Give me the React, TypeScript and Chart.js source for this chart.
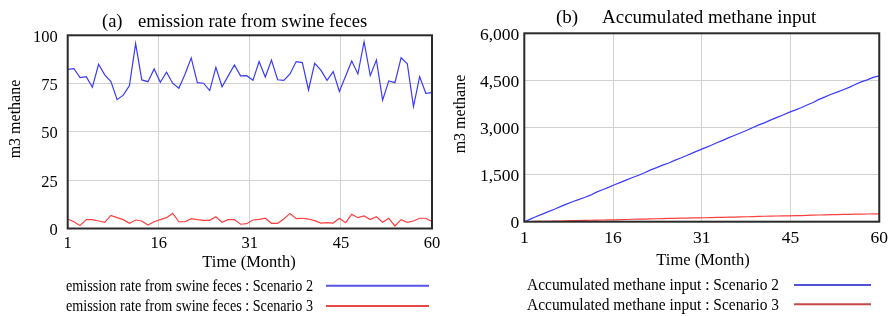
import React, { useEffect, useRef } from 'react';
import { Chart, registerables } from 'chart.js';

Chart.register(...registerables);

// ---------- data ----------
const months = [
  1, 2, 3, 4, 5, 6, 7, 8, 9, 10, 11, 12, 13, 14, 15, 16, 17, 18, 19, 20,
  21, 22, 23, 24, 25, 26, 27, 28, 29, 30, 31, 32, 33, 34, 35, 36, 37, 38, 39, 40,
  41, 42, 43, 44, 45, 46, 47, 48, 49, 50, 51, 52, 53, 54, 55, 56, 57, 58, 59, 60,
];

const emissionScenario2 = [
  82.4, 82.8, 78.1, 78.6, 73.1, 85.0, 79.5, 76.0, 66.7, 69.0,
  74.0, 95.7, 76.9, 76.0, 82.6, 75.7, 80.9, 75.2, 72.6, 79.8,
  88.3, 75.5, 75.2, 71.4, 83.4, 73.4, 79.0, 84.7, 79.0, 79.1,
  76.7, 86.4, 78.4, 87.2, 77.0, 76.7, 80.0, 86.4, 85.9, 71.7,
  85.5, 82.0, 76.7, 81.2, 70.9, 78.8, 86.7, 80.0, 96.7, 79.1,
  87.2, 66.4, 76.4, 75.5, 88.4, 85.3, 63.1, 78.6, 70.0, 70.3,
];

const emissionScenario3 = [
  4.9, 3.5, 1.5, 4.6, 4.6, 3.9, 3.2, 6.8, 5.6, 4.6,
  2.7, 4.4, 3.9, 1.8, 3.5, 4.6, 5.6, 7.8, 3.5, 3.5,
  5.1, 4.6, 4.2, 4.2, 6.1, 3.2, 4.6, 4.6, 2.2, 2.5,
  4.4, 4.7, 5.3, 2.7, 2.7, 4.9, 7.8, 5.1, 5.3, 4.9,
  4.1, 2.8, 3.0, 2.8, 5.3, 3.0, 7.3, 5.6, 6.5, 4.6,
  6.1, 3.2, 5.3, 1.3, 4.6, 3.2, 3.9, 5.3, 5.3, 3.5,
];

const accumulatedScenario2 = [
  0, 82, 165, 243, 322, 395, 480, 560, 636, 702,
  771, 845, 941, 1018, 1094, 1176, 1252, 1333, 1408, 1481,
  1561, 1649, 1724, 1800, 1871, 1954, 2028, 2107, 2192, 2271,
  2350, 2426, 2513, 2591, 2678, 2755, 2832, 2912, 2998, 3084,
  3156, 3242, 3324, 3400, 3481, 3552, 3631, 3718, 3798, 3895,
  3974, 4061, 4127, 4204, 4279, 4368, 4453, 4516, 4595, 4645,
];

const accumulatedScenario3 = [
  0, 5, 8, 10, 15, 19, 23, 26, 33, 39,
  43, 46, 50, 54, 56, 60, 64, 70, 78, 81,
  85, 90, 94, 98, 103, 109, 112, 117, 121, 123,
  126, 130, 135, 140, 143, 146, 151, 158, 163, 169,
  174, 178, 181, 184, 186, 192, 195, 202, 208, 214,
  219, 225, 228, 233, 235, 239, 242, 246, 250, 252,
];

const xTickValues = [1, 15.75, 30.5, 45.25, 60];
const xTickLabels = ['1', '16', '31', '45', '60'];
const leftYTickLabels = ['0', '25', '50', '75', '100'];
const rightYTickLabels = ['0', '1,500', '3,000', '4,500', '6,000'];

// ---------- styles ----------
const FONT = '"Liberation Serif", "Times New Roman", Times, serif';
const BLUE = '#3a3aff';
const RED = '#ff4040';

type Panel = {
  tag: string;
  title: string;
  tagX: number;
  titleX: number;
  titleY: number;
  titleSize: number;
  yTitleX: number;
  yTitleY: number;
  xTitleX: number;
  xTitleY: number;
  legendX: number;
  legendW: number;
  legendRows: number[];
  lineRows: number[];
  lineX1: number;
  lineX2: number;
  legendColors: string[];
  legendTexts: string[];
};

function decorPlugin(p: Panel) {
  return {
    id: 'decor',
    afterDatasetsDraw(chart: any) {
      const { ctx, chartArea } = chart;
      ctx.save();
      ctx.strokeStyle = '#2a2a2a';
      ctx.lineWidth = 2;
      ctx.strokeRect(chartArea.left, chartArea.top, chartArea.right - chartArea.left, chartArea.bottom - chartArea.top);
      ctx.restore();
    },
    afterDraw(chart: any) {
      const { ctx } = chart;
      ctx.save();
      ctx.fillStyle = '#000';
      ctx.textBaseline = 'alphabetic';
      ctx.textAlign = 'left';
      ctx.font = `${p.titleSize}px ${FONT}`;
      ctx.fillText(p.tag, p.tagX, p.titleY);
      ctx.fillText(p.title, p.titleX, p.titleY);

      // x axis title
      ctx.font = `16.5px ${FONT}`;
      ctx.textAlign = 'center';
      ctx.fillText('Time (Month)', p.xTitleX, p.xTitleY);

      // y axis title
      ctx.save();
      ctx.translate(p.yTitleX, p.yTitleY);
      ctx.rotate(-Math.PI / 2);
      ctx.textBaseline = 'middle';
      ctx.font = `16px ${FONT}`;
      ctx.fillText('m3 methane', 0, 0);
      ctx.restore();

      // legend
      ctx.font = `16px ${FONT}`;
      ctx.textAlign = 'left';
      p.legendTexts.forEach((t, i) => {
        const w = ctx.measureText(t).width;
        const sx = p.legendW / w;
        ctx.save();
        ctx.translate(p.legendX, p.legendRows[i]);
        ctx.scale(sx, 1);
        ctx.fillText(t, 0, 0);
        ctx.restore();
        ctx.beginPath();
        ctx.strokeStyle = p.legendColors[i];
        ctx.lineWidth = 2;
        ctx.moveTo(p.lineX1, p.lineRows[i]);
        ctx.lineTo(p.lineX2, p.lineRows[i]);
        ctx.stroke();
      });
      ctx.restore();
    },
  };
}

function makeConfig(opts: {
  s2: number[];
  s3: number[];
  labels: string[];
  yMax: number;
  yStep: number;
  yLabels: string[];
  padTop: number;
  padRight: number;
  yWidth: number;
  xHeight: number;
  tickSize: number;
  yPad: number;
  xPad: number;
  panel: Panel;
}) {
  const grid = { color: '#d2d2d2', lineWidth: 1, drawTicks: false };
  return {
    type: 'line' as const,
    data: {
      datasets: [
        {
          label: opts.labels[0],
          data: months.map((m, i) => ({ x: m, y: opts.s2[i] })),
          borderColor: BLUE,
          borderWidth: 1.2,
          pointRadius: 0,
          tension: 0,
          fill: false,
        },
        {
          label: opts.labels[1],
          data: months.map((m, i) => ({ x: m, y: opts.s3[i] })),
          borderColor: RED,
          borderWidth: 1.2,
          pointRadius: 0,
          tension: 0,
          fill: false,
        },
      ],
    },
    options: {
      animation: false,
      responsive: false,
      maintainAspectRatio: false,
      layout: { padding: { top: opts.padTop, right: opts.padRight, left: 0, bottom: 0 } },
      plugins: { legend: { display: false }, title: { display: false }, tooltip: { enabled: false } },
      scales: {
        x: {
          type: 'linear',
          min: 1,
          max: 60,
          afterBuildTicks: (s: any) => {
            s.ticks = xTickValues.map((v) => ({ value: v }));
          },
          afterFit: (s: any) => {
            s.height = opts.xHeight;
          },
          grid,
          border: { display: false },
          ticks: {
            autoSkip: false,
            maxRotation: 0,
            padding: opts.xPad,
            color: '#000',
            font: { family: FONT, size: opts.tickSize },
            callback: (_v: any, i: number) => xTickLabels[i],
          },
        },
        y: {
          min: 0,
          max: opts.yMax,
          afterFit: (s: any) => {
            s.width = opts.yWidth;
          },
          grid,
          border: { display: false },
          ticks: {
            stepSize: opts.yStep,
            padding: opts.yPad,
            labelOffset: 2,
            color: '#000',
            font: { family: FONT, size: opts.tickSize },
            callback: (_v: any, i: number) => opts.yLabels[i],
          },
        },
      },
    },
    plugins: [decorPlugin(opts.panel)],
  };
}

const leftLegend = [
  'emission rate from swine feces : Scenario 2',
  'emission rate from swine feces : Scenario 3',
];
const rightLegend = [
  'Accumulated methane input : Scenario 2',
  'Accumulated methane input : Scenario 3',
];

function ChartCanvas({ config, left }: { config: any; left: number }) {
  const ref = useRef<HTMLCanvasElement | null>(null);
  useEffect(() => {
    if (!ref.current) return;
    const chart = new Chart(ref.current, config);
    return () => chart.destroy();
  }, [config]);
  return (
    <canvas
      ref={ref}
      width={447}
      height={316}
      style={{ position: 'absolute', left, top: 0, width: 447, height: 316 }}
    />
  );
}

const leftConfig = makeConfig({
  s2: emissionScenario2,
  s3: emissionScenario3,
  labels: leftLegend,
  yMax: 100,
  yStep: 25,
  yLabels: leftYTickLabels,
  padTop: 35.3,
  padRight: 15,
  yWidth: 67.7,
  xHeight: 87.5,
  tickSize: 16.5,
  yPad: 10,
  xPad: 5,
  panel: {
    tag: '(a)',
    title: 'emission rate from swine feces',
    tagX: 102,
    titleX: 138,
    titleY: 27,
    titleSize: 18.5,
    yTitleX: 15.5,
    yTitleY: 119,
    xTitleX: 249,
    xTitleY: 267,
    legendX: 66,
    legendW: 247,
    legendRows: [291, 311],
    lineRows: [285.7, 306],
    lineX1: 326,
    lineX2: 429,
    legendColors: ['#5555e6', '#e84848'],
    legendTexts: leftLegend,
  },
});

const rightConfig = makeConfig({
  s2: accumulatedScenario2,
  s3: accumulatedScenario3,
  labels: rightLegend,
  yMax: 6000,
  yStep: 1500,
  yLabels: rightYTickLabels,
  padTop: 33.3,
  padRight: 9,
  yWidth: 77.3,
  xHeight: 94.3,
  tickSize: 17.5,
  yPad: 5,
  xPad: 6,
  panel: {
    tag: '(b)',
    title: 'Accumulated methane input',
    tagX: 109,
    titleX: 155,
    titleY: 23,
    titleSize: 19,
    yTitleX: 14,
    yTitleY: 114,
    xTitleX: 256,
    xTitleY: 265,
    legendX: 80,
    legendW: 252,
    legendRows: [290, 309.5],
    lineRows: [285, 304.3],
    lineX1: 347,
    lineX2: 424,
    legendColors: ['#5050d8', '#c84848'],
    legendTexts: rightLegend,
  },
});

export default function App() {
  return (
    <div style={{ position: 'absolute', left: 0, top: 0, width: 894, height: 316, background: '#fff' }}>
      <ChartCanvas config={leftConfig} left={0} />
      <ChartCanvas config={rightConfig} left={447} />
    </div>
  );
}
